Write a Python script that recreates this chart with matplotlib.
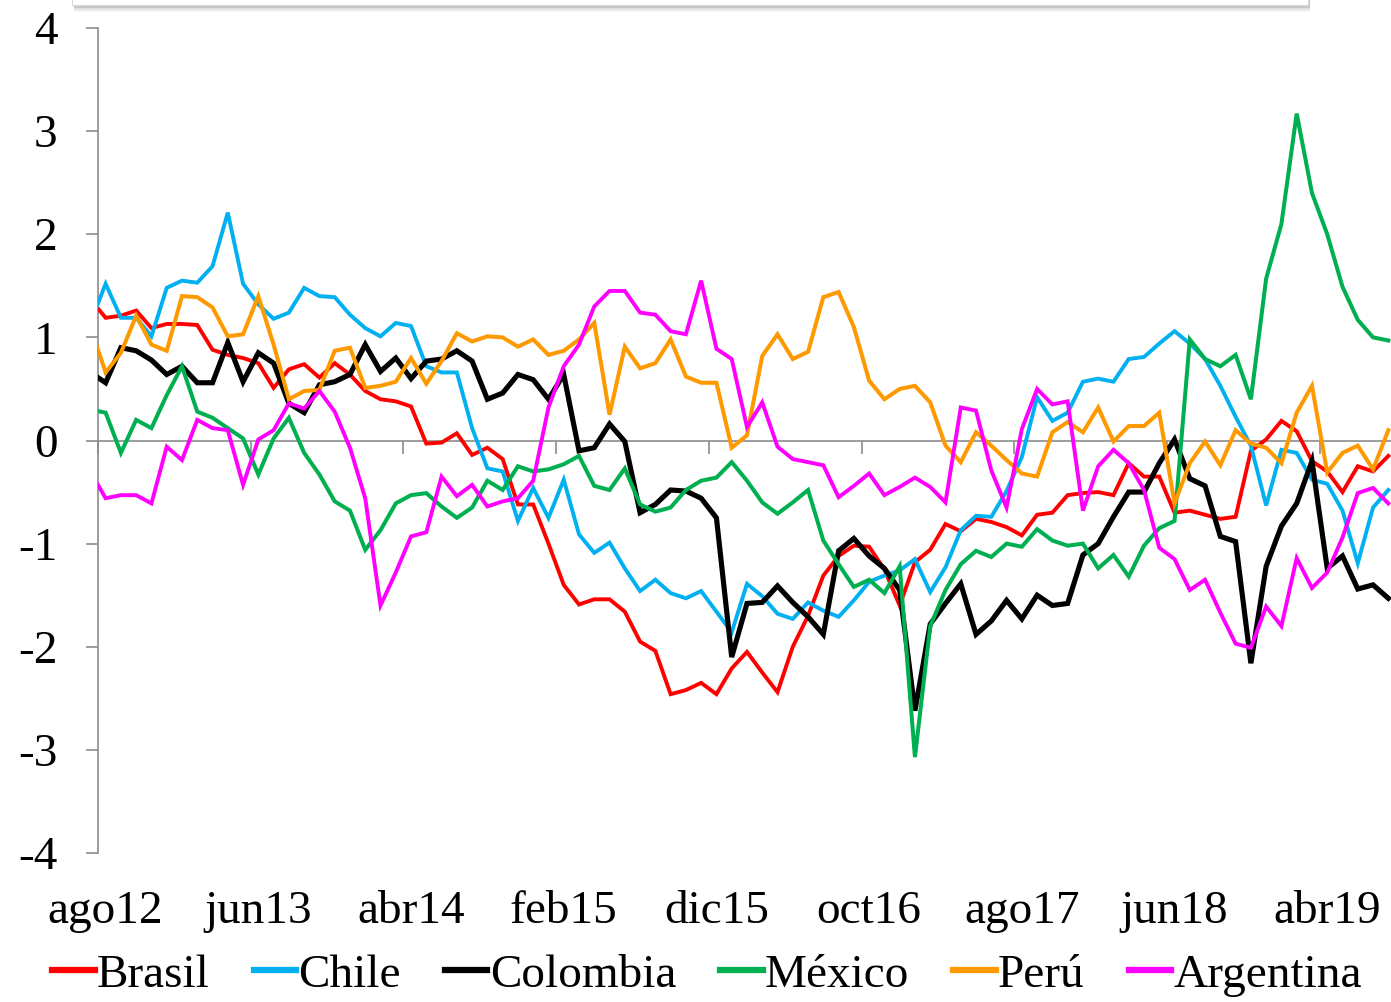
import numpy as np
import matplotlib
matplotlib.use("Agg")
import matplotlib.pyplot as plt
from matplotlib.patches import Rectangle

plt.rcParams['font.family'] = ['Liberation Serif', 'DejaVu Serif']
plt.rcParams['axes.unicode_minus'] = False

# ---------------- data ----------------
mes = ['ene', 'feb', 'mar', 'abr', 'may', 'jun', 'jul', 'ago', 'sep', 'oct', 'nov', 'dic']
# categories: jul12 ... ago19 (jul12 lies just left of the visible axis)
categorias = [f"{mes[(6 + k) % 12]}{12 + (6 + k) // 12}" for k in range(86)]
etiquetas_x = ['ago12', 'jun13', 'abr14', 'feb15', 'dic15', 'oct16', 'ago17', 'jun18', 'abr19']
ticks_y = [-4, -3, -2, -1, 0, 1, 2, 3, 4]

brasil = [1.37, 1.19, 1.21, 1.26, 1.09, 1.13, 1.13, 1.12, 0.88, 0.83, 0.80,
          0.75, 0.51, 0.69, 0.74, 0.61, 0.75, 0.64, 0.48, 0.40, 0.38,
          0.33, -0.03, -0.02, 0.07, -0.14, -0.07, -0.18, -0.62, -0.62, -1.00,
          -1.40, -1.59, -1.54, -1.54, -1.66, -1.95, -2.04, -2.46, -2.42, -2.35,
          -2.46, -2.21, -2.05, -2.25, -2.44, -2.00, -1.70, -1.31, -1.12, -1.02,
          -1.03, -1.25, -1.60, -1.18, -1.06, -0.81, -0.88, -0.76, -0.79, -0.84,
          -0.92, -0.72, -0.70, -0.53, -0.51, -0.50, -0.53, -0.22, -0.35, -0.35,
          -0.70, -0.68, -0.72, -0.76, -0.74, -0.10, 0.01, 0.19, 0.09, -0.20,
          -0.30, -0.50, -0.25, -0.30, -0.15]
chile = [1.14, 1.52, 1.19, 1.19, 1.01, 1.48, 1.55, 1.53, 1.69, 2.21, 1.52,
         1.32, 1.18, 1.24, 1.48, 1.40, 1.39, 1.22, 1.09, 1.01, 1.14,
         1.11, 0.72, 0.66, 0.66, 0.12, -0.27, -0.30, -0.78, -0.46, -0.75,
         -0.38, -0.91, -1.09, -0.99, -1.24, -1.46, -1.35, -1.48, -1.53, -1.46,
         -1.66, -1.86, -1.39, -1.51, -1.68, -1.73, -1.57, -1.65, -1.71, -1.55,
         -1.37, -1.31, -1.26, -1.15, -1.47, -1.23, -0.87, -0.73, -0.74, -0.49,
         -0.16, 0.42, 0.19, 0.27, 0.57, 0.60, 0.57, 0.79, 0.81, 0.94,
         1.06, 0.94, 0.79, 0.53, 0.23, -0.05, -0.63, -0.09, -0.12, -0.38,
         -0.42, -0.68, -1.19, -0.65, -0.48]
colombia = [0.66, 0.56, 0.90, 0.87, 0.78, 0.64, 0.72, 0.56, 0.56, 0.95, 0.57,
            0.85, 0.75, 0.36, 0.27, 0.54, 0.57, 0.64, 0.93, 0.67, 0.80,
            0.60, 0.77, 0.79, 0.87, 0.77, 0.40, 0.46, 0.64, 0.59, 0.40,
            0.64, -0.10, -0.07, 0.16, -0.01, -0.70, -0.62, -0.48, -0.49, -0.56,
            -0.75, -2.10, -1.58, -1.57, -1.41, -1.57, -1.71, -1.88, -1.07, -0.95,
            -1.12, -1.24, -1.45, -2.62, -1.78, -1.58, -1.39, -1.88, -1.75, -1.55,
            -1.73, -1.50, -1.60, -1.58, -1.11, -1.00, -0.74, -0.50, -0.50, -0.22,
            0.01, -0.37, -0.44, -0.93, -0.98, -2.16, -1.22, -0.83, -0.61, -0.20,
            -1.24, -1.12, -1.44, -1.40, -1.53]
mexico = [0.30, 0.27, -0.12, 0.20, 0.12, 0.44, 0.72, 0.28, 0.22, 0.12, 0.02,
          -0.33, 0.02, 0.22, -0.12, -0.33, -0.59, -0.68, -1.06, -0.87, -0.61,
          -0.53, -0.51, -0.64, -0.75, -0.65, -0.39, -0.48, -0.25, -0.30, -0.28,
          -0.23, -0.15, -0.44, -0.48, -0.27, -0.62, -0.69, -0.65, -0.48, -0.39,
          -0.36, -0.21, -0.39, -0.60, -0.71, -0.60, -0.48, -0.97, -1.20, -1.42,
          -1.35, -1.48, -1.22, -3.07, -1.80, -1.45, -1.20, -1.07, -1.13, -1.00,
          -1.03, -0.86, -0.97, -1.02, -1.00, -1.24, -1.11, -1.32, -1.02, -0.85,
          -0.78, 0.98, 0.79, 0.72, 0.83, 0.40, 1.57, 2.10, 3.17, 2.40,
          2.00, 1.49, 1.17, 1.00, 0.97]
peru = [1.10, 0.66, 0.85, 1.21, 0.93, 0.87, 1.40, 1.39, 1.29, 1.01, 1.03,
        1.40, 0.93, 0.40, 0.48, 0.49, 0.87, 0.90, 0.51, 0.53, 0.57,
        0.80, 0.55, 0.77, 1.04, 0.96, 1.01, 1.00, 0.91, 0.98, 0.83,
        0.87, 0.98, 1.14, 0.25, 0.91, 0.70, 0.75, 0.98, 0.62, 0.56,
        0.56, -0.07, 0.05, 0.82, 1.03, 0.79, 0.86, 1.39, 1.44, 1.10,
        0.58, 0.40, 0.50, 0.53, 0.37, -0.05, -0.21, 0.08, -0.05, -0.19,
        -0.32, -0.35, 0.08, 0.18, 0.08, 0.32, -0.01, 0.14, 0.14, 0.27,
        -0.61, -0.22, -0.01, -0.24, 0.10, -0.03, -0.07, -0.22, 0.27, 0.53,
        -0.31, -0.12, -0.05, -0.28, 0.10]
argentina = [-0.30, -0.56, -0.53, -0.53, -0.61, -0.06, -0.19, 0.20, 0.12, 0.10, -0.43,
             0.01, 0.10, 0.36, 0.31, 0.48, 0.28, -0.07, -0.56, -1.60, -1.28,
             -0.93, -0.89, -0.35, -0.54, -0.43, -0.64, -0.59, -0.56, -0.39, 0.32,
             0.72, 0.93, 1.30, 1.45, 1.45, 1.24, 1.22, 1.06, 1.03, 1.55,
             0.89, 0.79, 0.13, 0.37, -0.06, -0.18, -0.21, -0.24, -0.55, -0.44,
             -0.32, -0.53, -0.45, -0.36, -0.45, -0.60, 0.32, 0.29, -0.29, -0.65,
             0.11, 0.50, 0.35, 0.38, -0.68, -0.25, -0.09, -0.22, -0.48, -1.04,
             -1.15, -1.45, -1.35, -1.67, -1.97, -2.01, -1.61, -1.80, -1.14, -1.43,
             -1.28, -0.94, -0.51, -0.46, -0.61]

series = [
    ('Brasil', brasil, '#FF0000', 2.8),
    ('Chile', chile, '#00B0F0', 2.8),
    ('Colombia', colombia, '#000000', 3.7),
    ('México', mexico, '#00B050', 2.9),
    ('Perú', peru, '#FF9900', 2.9),
    ('Argentina', argentina, '#FF00FF', 2.8),
]

# ---------------- figure ----------------
W, H = 1391, 1002
fig = plt.figure(figsize=(W / 100, H / 100), dpi=100)
fig.patch.set_facecolor('white')

# cut-off title box at the top with soft shadow
for k, a in enumerate([0.28, 0.16, 0.08]):
    fig.patches.append(Rectangle((74 / W, (994 - 2 * k) / H), 1236 / W, 0.2,
                                 transform=fig.transFigure, facecolor='#808080',
                                 alpha=a, edgecolor='none', zorder=0))
fig.patches.append(Rectangle((72 / W, 997 / H), 1236 / W, 0.2,
                             transform=fig.transFigure, facecolor='white',
                             edgecolor='#d9d9d9', lw=0.8, zorder=1))

ax = fig.add_axes([98 / W, (H - 853) / H, (W - 98) / W, 825 / H])
ax.set_facecolor('none')

gris = '#8C8C8C'
pos = np.arange(len(categorias)) - 1  # ago12 -> 0

# horizontal axis line at zero
ax.axhline(0, color=gris, lw=1.2, zorder=2)

for nombre, vals, col, lw in series:
    ax.plot(pos[:len(vals)], vals, color=col, lw=lw, label=nombre,
            solid_joinstyle='miter', zorder=3)

ax.set_xlim(-0.5, -0.5 + (W - 98) / 15.27)
ax.set_ylim(-4, 4)

for s in ['top', 'right', 'bottom']:
    ax.spines[s].set_visible(False)
ax.spines['left'].set_color(gris)
ax.spines['left'].set_linewidth(1.2)

ax.set_yticks(ticks_y)
ax.set_yticklabels([str(t) for t in ticks_y])
ax.tick_params(axis='y', direction='out', length=9, width=1.2, color=gris,
               pad=20, labelsize=34)

# category labels at the bottom ("low" labels)
idx_lab = [categorias.index(e) - 1 for e in etiquetas_x]
ax.set_xticks(idx_lab)
ax.set_xticklabels(etiquetas_x)
ax.tick_params(axis='x', length=0, pad=27, labelsize=34)

# tick marks between categories on the zero line
sec = ax.secondary_xaxis(0.5)
for sp in sec.spines.values():
    sp.set_visible(False)
sec.set_xticks(np.arange(-0.5, 85, 10))
sec.set_xticklabels([])
sec.xaxis.set_ticks_position('bottom')
sec.tick_params(axis='x', which='both', direction='out', length=9, width=1.2,
                color=gris, bottom=True, top=False)

leg = fig.legend(loc='center', bbox_to_anchor=(707 / W, 1 - 975 / H), ncol=6,
                 frameon=False, fontsize=34, handlelength=0.9,
                 handletextpad=0.05, columnspacing=0.93, borderaxespad=0)
for h in leg.get_lines():
    h.set_linewidth(4.5)

fig.savefig('out.png', dpi=100)
